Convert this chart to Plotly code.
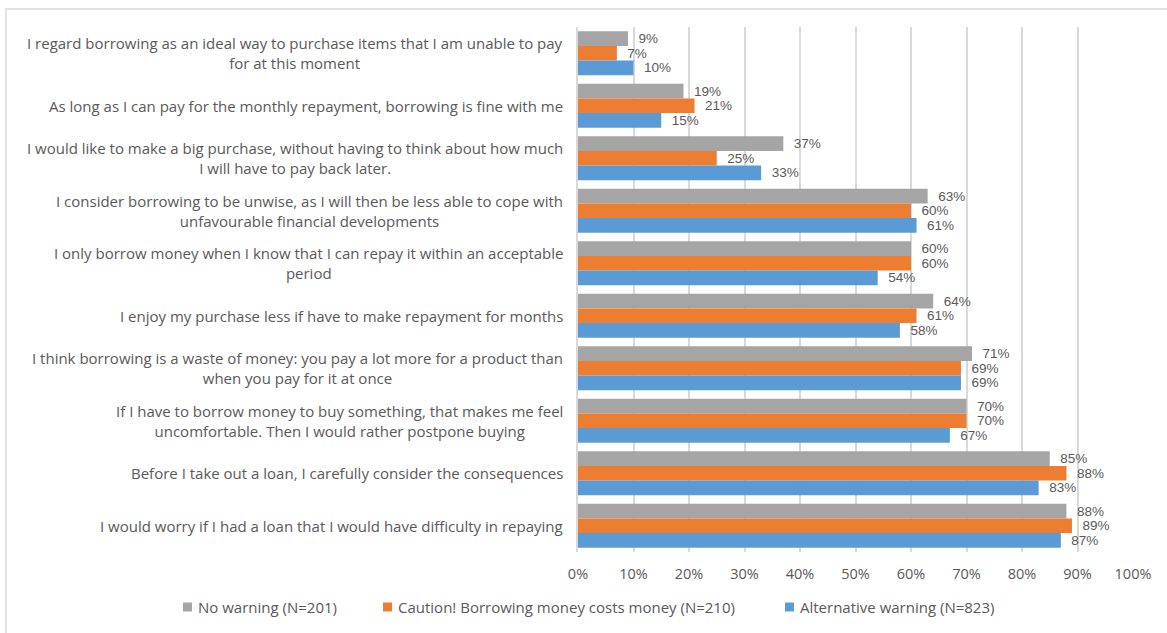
import plotly.graph_objects as go

# Survey statements (top to bottom) and share agreeing, per warning condition
statements = [
    "I regard borrowing as an ideal way to purchase items that I am unable to pay<br>for at this moment",
    "As long as I can pay for the monthly repayment, borrowing is fine with me",
    "I would like to make a big purchase, without having to think about how much<br>I will have to pay back later.",
    "I consider borrowing to be unwise, as I will then be less able to cope with<br>unfavourable financial developments",
    "I only borrow money when I know that I can repay it within an acceptable<br>period",
    "I enjoy my purchase less if have to make repayment for months",
    "I think borrowing is a waste of money: you pay a lot more for a product than<br>when you pay for it at once",
    "If I have to borrow money to buy something, that makes me feel<br>uncomfortable. Then I would rather postpone buying",
    "Before I take out a loan, I carefully consider the consequences",
    "I would worry if I had a loan that I would have difficulty in repaying",
]
no_warning = [9, 19, 37, 63, 60, 64, 71, 70, 85, 88]
caution = [7, 21, 25, 60, 60, 61, 69, 70, 88, 89]
alternative = [10, 15, 33, 61, 54, 58, 69, 67, 83, 87]

series_names = [
    "No warning (N=201)",
    "Caution! Borrowing money costs money (N=210)",
    "Alternative warning (N=823)",
]
series_colors = ["#a5a5a5", "#ed7d31", "#5b9bd5"]
x_ticks = [0, 10, 20, 30, 40, 50, 60, 70, 80, 90, 100]

W, H = 1167, 633
ML, MR, MT, MB = 578, 34, 27, 81
LABEL_FONT = "Open Sans"
VALUE_FONT = "Liberation Sans"
TXT = "#595959"

plot_w = W - ML - MR
plot_h = H - MT - MB


def px_x(px):
    """Horizontal pixel position -> paper coordinate."""
    return (px - ML) / plot_w


def px_y(py):
    """Vertical pixel position (from top) -> paper coordinate."""
    return (H - MB - py) / plot_h


ids = list(range(len(statements)))

fig = go.Figure()
for name, vals, col in zip(series_names, [no_warning, caution, alternative], series_colors):
    fig.add_trace(go.Bar(
        name=name,
        y=ids,
        x=vals,
        orientation="h",
        marker=dict(color=col, line=dict(width=0)),
        text=[f"  {v}%" for v in vals],
        textposition="outside",
        constraintext="none",
        cliponaxis=False,
        textfont=dict(family=VALUE_FONT, size=13.5, color=TXT),
        showlegend=False,
    ))

# Category labels, each line centred, block right-aligned against the axis
for i, s in enumerate(statements):
    fig.add_annotation(
        text=s, xref="paper", yref="y", x=px_x(565), y=i,
        xanchor="right", yanchor="middle", align="center", showarrow=False,
        font=dict(family=LABEL_FONT, size=15, color=TXT),
    )

# Legend row below the axis: swatch + label per series
legend_left = [183, 383, 785]
legend_y = 607
for left, name, col in zip(legend_left, series_names, series_colors):
    fig.add_shape(
        type="rect", xref="paper", yref="paper",
        x0=px_x(left), x1=px_x(left + 9), y0=px_y(legend_y + 4.5), y1=px_y(legend_y - 4.5),
        line=dict(width=0), fillcolor=col,
    )
    fig.add_annotation(
        text=name, xref="paper", yref="paper", x=px_x(left + 13), y=px_y(legend_y),
        xanchor="left", yanchor="middle", showarrow=False,
        font=dict(family=LABEL_FONT, size=15, color=TXT),
    )

# Outer chart border
fig.add_shape(
    type="rect", xref="paper", yref="paper",
    x0=px_x(6), x1=px_x(W + 5), y0=px_y(H + 5), y1=px_y(9),
    line=dict(color="#d9d9d9", width=1.5), fillcolor="rgba(0,0,0,0)", layer="below",
)

fig.update_layout(
    width=W, height=H,
    margin=dict(l=ML, r=MR, t=MT, b=MB),
    paper_bgcolor="white", plot_bgcolor="white",
    barmode="group", bargap=0.16, bargroupgap=0,
    font=dict(family=LABEL_FONT, size=13, color=TXT),
    showlegend=False,
    xaxis=dict(
        range=[0, 100], tickvals=x_ticks, ticktext=[f"{t}%" for t in x_ticks],
        showgrid=True, gridcolor="#d9d9d9", gridwidth=1.5, zeroline=False,
        showline=False, ticks="", ticklabelstandoff=11,
        tickfont=dict(family=LABEL_FONT, size=14.5, color=TXT),
    ),
    yaxis=dict(
        range=[len(statements) - 0.5, -0.5], showticklabels=False,
        showgrid=False, zeroline=False, showline=True, linecolor="#d9d9d9", linewidth=1.5,
        ticks="",
    ),
)

fig.write_html("out.html")
